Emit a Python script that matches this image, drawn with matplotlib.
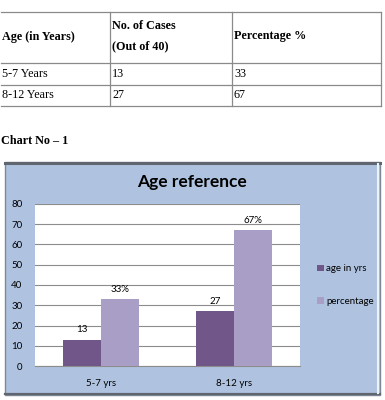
import matplotlib
matplotlib.use("Agg")
import matplotlib.pyplot as plt
from matplotlib.patches import Rectangle
import numpy as np

# ---- data ----
table_header = ["Age (in Years)", "No. of Cases\n(Out of 40)", "Percentage %"]
table_ages = ["5-7 Years", "8-12 Years"]
table_cases = [13, 27]
table_pct = [33, 67]

categories = ["5-7 yrs", "8-12 yrs"]
series_names = ["age in yrs", "percentage"]
age_values = [13, 27]
pct_values = [33, 67]
yticks = [0, 10, 20, 30, 40, 50, 60, 70, 80]

W, H = 385, 400
fig = plt.figure(figsize=(W / 100, H / 100), dpi=100)
fig.patch.set_facecolor("white")

# background axes in pixel coords
bg = fig.add_axes([0, 0, 1, 1])
bg.set_xlim(0, W)
bg.set_ylim(H, 0)
bg.axis("off")

serif = "Liberation Serif"
sans = "Lato"

# ---- table ----
lc = "#8a8a8a"
col_x = [0.5, 110, 232, 381]
row_y = [12, 63, 85, 106]
for y in row_y:
    bg.plot([col_x[0], col_x[-1]], [y, y], color=lc, lw=0.9)
for x in col_x[1:]:
    bg.plot([x, x], [row_y[0], row_y[-1]], color=lc, lw=0.9)

fs_t = 8.7
bg.text(2, 37, table_header[0], fontfamily=serif, fontweight="bold", fontsize=fs_t, va="center", ha="left")
bg.text(112, 36, table_header[1], fontfamily=serif, fontweight="bold", fontsize=fs_t, va="center", ha="left",
        linespacing=1.9)
bg.text(234, 36, table_header[2], fontfamily=serif, fontweight="bold", fontsize=fs_t, va="center", ha="left")
for i, (a, c, p) in enumerate(zip(table_ages, table_cases, table_pct)):
    yc = (row_y[i + 1] + row_y[i + 2]) / 2
    bg.text(2, yc, a, fontfamily=serif, fontsize=fs_t, va="center", ha="left")
    bg.text(112, yc, str(c), fontfamily=serif, fontsize=fs_t, va="center", ha="left")
    bg.text(234, yc, str(p), fontfamily=serif, fontsize=fs_t, va="center", ha="left")

bg.text(1, 141, "Chart No – 1", fontfamily=serif, fontweight="bold", fontsize=fs_t, va="center", ha="left")

# ---- chart frame ----
frame_fc = "#afc3e0"
bg.add_patch(Rectangle((5, 162), 375, 233, facecolor=frame_fc, edgecolor="#7d8796", lw=1.0, zorder=1))
bg.plot([5, 380], [163, 163], color="#5f6670", lw=2.2, zorder=2)
bg.plot([5, 380], [394, 394], color="#5f6670", lw=1.6, zorder=2)
bg.plot([378, 378], [164, 393], color="#e8f4fa", lw=1.5, zorder=2)
bg.text(192, 182, "Age reference", fontfamily=sans, fontweight="bold", fontsize=12.5,
        ha="center", va="center", zorder=3)

# ---- bar chart ----
ax = fig.add_axes([35 / W, (H - 366) / H, 265 / W, 162 / H])
ax.set_facecolor("white")
x = np.arange(len(categories))
bw = 0.287
c_dark = "#705689"
c_light = "#a99ec6"
fs_c = 7
b1 = ax.bar(x - bw / 2, age_values, bw, color=c_dark, zorder=3, label=series_names[0])
b2 = ax.bar(x + bw / 2, pct_values, bw, color=c_light, zorder=3, label=series_names[1])
ax.set_xlim(-0.5, len(categories) - 0.5)
ax.set_ylim(0, 80)
ax.set_yticks(yticks)
ax.set_yticklabels([str(t) for t in yticks], fontfamily=sans, fontsize=fs_c)
ax.set_xticks(x)
ax.set_xticklabels(categories, fontfamily=sans, fontsize=fs_c)
ax.tick_params(axis="y", length=0, pad=9)
ax.tick_params(axis="x", length=0, pad=9)
ax.yaxis.grid(True, color="#8c8c8c", lw=0.8, zorder=0)
for s in ["top", "right", "left"]:
    ax.spines[s].set_visible(False)
ax.spines["bottom"].set_color("#8c8c8c")

for rect, v in zip(b1, age_values):
    ax.annotate(str(v), (rect.get_x() + rect.get_width() / 2, v), xytext=(0, 4),
                textcoords="offset points", ha="center", va="bottom", fontfamily=sans, fontsize=fs_c)
for rect, v in zip(b2, pct_values):
    ax.annotate(f"{v}%", (rect.get_x() + rect.get_width() / 2, v), xytext=(0, 4),
                textcoords="offset points", ha="center", va="bottom", fontfamily=sans, fontsize=fs_c)

leg = fig.legend(handles=[b1, b2], labels=series_names, loc="center left",
                 bbox_to_anchor=(308 / W, (H - 285) / H), frameon=False,
                 prop={"family": sans, "size": fs_c}, handlelength=0.7, handleheight=0.7,
                 handletextpad=0.3, labelspacing=2.4)

fig.savefig("out.png", dpi=100, facecolor="white")
